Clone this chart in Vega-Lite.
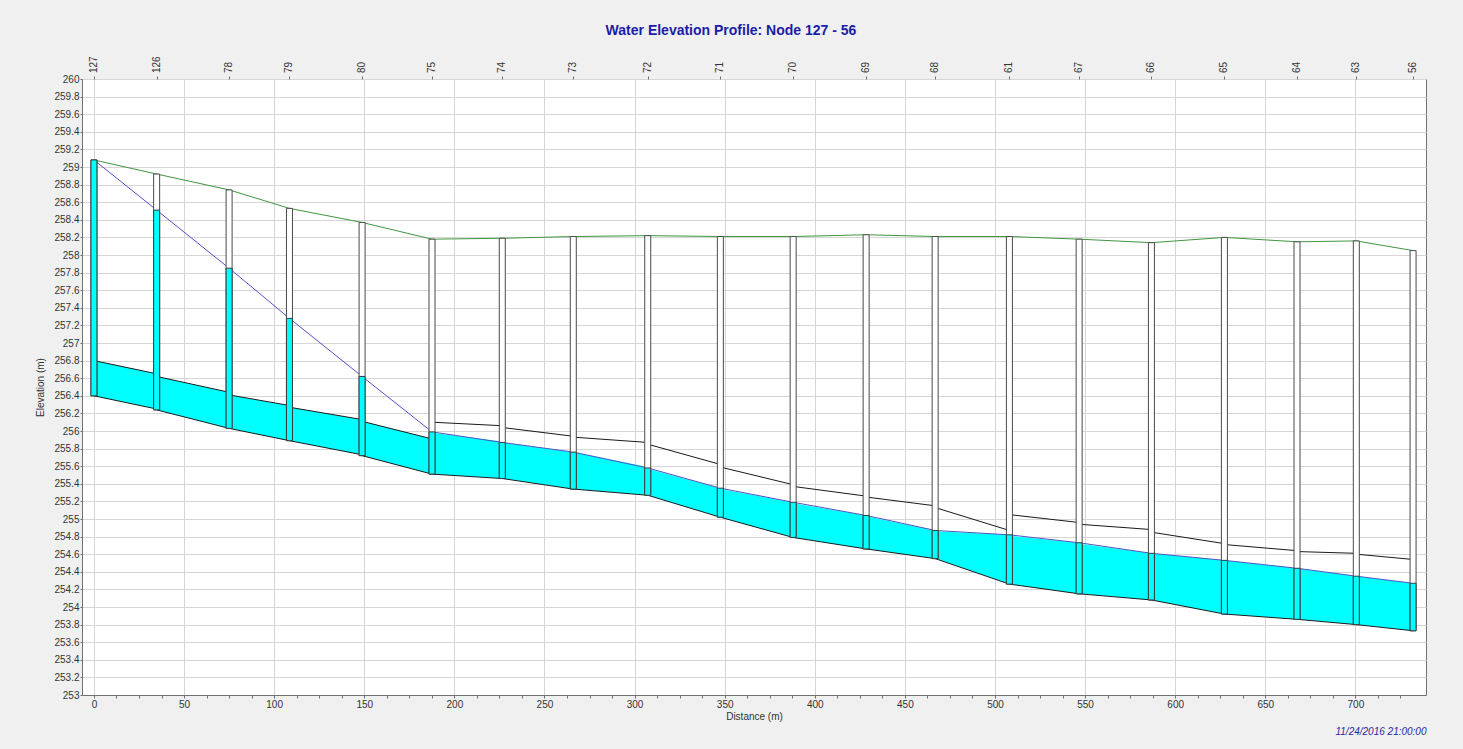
{
  "$schema": "https://vega.github.io/schema/vega-lite/v6.json",
  "width": 1344,
  "height": 616,
  "autosize": {"type": "none"},
  "padding": {"left": 82, "top": 79, "right": 37, "bottom": 54},
  "background": "#f0f0f0",
  "title": {"text": "Water Elevation Profile: Node 127 - 56", "color": "#1c1caa", "fontSize": 14, "font": "Liberation Sans", "fontWeight": "bold", "anchor": "middle", "dx": -23, "offset": 18},
  "config": {
    "view": {"fill": "white", "stroke": "#707070"},
    "axis": {"labelFont": "Liberation Sans", "titleFont": "Liberation Sans", "labelFontSize": 10, "titleFontSize": 10, "labelColor": "#333333", "titleColor": "#333333", "titleFontWeight": "normal", "gridColor": "#d6d6d6", "domainColor": "#707070", "tickColor": "#707070"}
  },
  "datasets": {
    "nodes": [
      {"node": "127", "d": 0, "ground": 259.08, "inv": 256.40, "water": 259.08},
      {"node": "126", "d": 34.8, "ground": 258.92, "inv": 256.24, "water": 258.51},
      {"node": "78", "d": 75, "ground": 258.74, "inv": 256.03, "water": 257.85},
      {"node": "79", "d": 108.5, "ground": 258.53, "inv": 255.89, "water": 257.28},
      {"node": "80", "d": 148.8, "ground": 258.37, "inv": 255.72, "water": 256.62},
      {"node": "75", "d": 187.6, "ground": 258.18, "inv": 255.51, "water": 255.99},
      {"node": "74", "d": 226.6, "ground": 258.19, "inv": 255.46, "water": 255.87},
      {"node": "73", "d": 266, "ground": 258.21, "inv": 255.34, "water": 255.76},
      {"node": "72", "d": 307.3, "ground": 258.22, "inv": 255.27, "water": 255.58},
      {"node": "71", "d": 347.6, "ground": 258.21, "inv": 255.02, "water": 255.35},
      {"node": "70", "d": 388, "ground": 258.21, "inv": 254.79, "water": 255.19},
      {"node": "69", "d": 428.5, "ground": 258.23, "inv": 254.66, "water": 255.04},
      {"node": "68", "d": 466.8, "ground": 258.21, "inv": 254.55, "water": 254.87},
      {"node": "61", "d": 508, "ground": 258.21, "inv": 254.26, "water": 254.82},
      {"node": "67", "d": 546.7, "ground": 258.18, "inv": 254.15, "water": 254.73},
      {"node": "66", "d": 586.8, "ground": 258.14, "inv": 254.08, "water": 254.61},
      {"node": "65", "d": 627.3, "ground": 258.20, "inv": 253.92, "water": 254.53},
      {"node": "64", "d": 667.6, "ground": 258.15, "inv": 253.86, "water": 254.44},
      {"node": "63", "d": 700.5, "ground": 258.16, "inv": 253.80, "water": 254.35},
      {"node": "56", "d": 732, "ground": 258.05, "inv": 253.73, "water": 254.27}
    ],
    "pipes": [
      {"seg": 1, "d": 0, "inv": 256.40, "crown": 256.80, "surf": 256.80},
      {"seg": 1, "d": 34.8, "inv": 256.25, "crown": 256.65, "surf": 256.65},
      {"seg": 2, "d": 34.8, "inv": 256.24, "crown": 256.62, "surf": 256.62},
      {"seg": 2, "d": 75, "inv": 256.03, "crown": 256.44, "surf": 256.44},
      {"seg": 3, "d": 75, "inv": 256.03, "crown": 256.41, "surf": 256.41},
      {"seg": 3, "d": 108.5, "inv": 255.89, "crown": 256.29, "surf": 256.29},
      {"seg": 4, "d": 108.5, "inv": 255.89, "crown": 256.27, "surf": 256.27},
      {"seg": 4, "d": 148.8, "inv": 255.73, "crown": 256.13, "surf": 256.13},
      {"seg": 5, "d": 148.8, "inv": 255.72, "crown": 256.11, "surf": 256.11},
      {"seg": 5, "d": 187.6, "inv": 255.51, "crown": 255.91, "surf": 255.91},
      {"seg": 6, "d": 187.6, "inv": 255.51, "crown": 256.10, "surf": 255.98},
      {"seg": 6, "d": 226.6, "inv": 255.46, "crown": 256.06, "surf": 255.88},
      {"seg": 7, "d": 226.6, "inv": 255.46, "crown": 256.04, "surf": 255.87},
      {"seg": 7, "d": 266, "inv": 255.34, "crown": 255.94, "surf": 255.76},
      {"seg": 8, "d": 266, "inv": 255.34, "crown": 255.93, "surf": 255.76},
      {"seg": 8, "d": 307.3, "inv": 255.27, "crown": 255.87, "surf": 255.59},
      {"seg": 9, "d": 307.3, "inv": 255.27, "crown": 255.85, "surf": 255.57},
      {"seg": 9, "d": 347.6, "inv": 255.02, "crown": 255.62, "surf": 255.35},
      {"seg": 10, "d": 347.6, "inv": 255.02, "crown": 255.59, "surf": 255.34},
      {"seg": 10, "d": 388, "inv": 254.79, "crown": 255.39, "surf": 255.19},
      {"seg": 11, "d": 388, "inv": 254.79, "crown": 255.37, "surf": 255.18},
      {"seg": 11, "d": 428.5, "inv": 254.66, "crown": 255.26, "surf": 255.04},
      {"seg": 12, "d": 428.5, "inv": 254.66, "crown": 255.25, "surf": 255.03},
      {"seg": 12, "d": 466.8, "inv": 254.55, "crown": 255.15, "surf": 254.87},
      {"seg": 13, "d": 466.8, "inv": 254.55, "crown": 255.13, "surf": 254.86},
      {"seg": 13, "d": 508, "inv": 254.26, "crown": 254.87, "surf": 254.82},
      {"seg": 14, "d": 508, "inv": 254.26, "crown": 255.05, "surf": 254.81},
      {"seg": 14, "d": 546.7, "inv": 254.15, "crown": 254.96, "surf": 254.73},
      {"seg": 15, "d": 546.7, "inv": 254.15, "crown": 254.94, "surf": 254.72},
      {"seg": 15, "d": 586.8, "inv": 254.08, "crown": 254.88, "surf": 254.61},
      {"seg": 16, "d": 586.8, "inv": 254.08, "crown": 254.85, "surf": 254.61},
      {"seg": 16, "d": 627.3, "inv": 253.92, "crown": 254.72, "surf": 254.53},
      {"seg": 17, "d": 627.3, "inv": 253.92, "crown": 254.71, "surf": 254.53},
      {"seg": 17, "d": 667.6, "inv": 253.86, "crown": 254.64, "surf": 254.44},
      {"seg": 18, "d": 667.6, "inv": 253.86, "crown": 254.63, "surf": 254.44},
      {"seg": 18, "d": 700.5, "inv": 253.80, "crown": 254.61, "surf": 254.35},
      {"seg": 19, "d": 700.5, "inv": 253.80, "crown": 254.60, "surf": 254.35},
      {"seg": 19, "d": 732, "inv": 253.73, "crown": 254.54, "surf": 254.27}
    ]
  },
  "layer": [
    {
      "data": {"name": "pipes"},
      "mark": {"type": "area", "color": "#00ffff", "opacity": 1},
      "encoding": {
        "x": {"field": "d", "type": "quantitative", "scale": {"domain": [-3.85, 736.4], "nice": false, "zero": false},
          "axis": {"orient": "bottom", "values": [0, 50, 100, 150, 200, 250, 300, 350, 400, 450, 500, 550, 600, 650, 700], "grid": true, "ticks": false, "labelPadding": 4, "title": "Distance (m)", "titlePadding": 2, "domain": true}},
        "y": {"field": "inv", "type": "quantitative", "scale": {"domain": [253, 260], "nice": false, "zero": false},
          "axis": {"orient": "left", "values": [253, 253.2, 253.4, 253.6, 253.8, 254, 254.2, 254.4, 254.6, 254.8, 255, 255.2, 255.4, 255.6, 255.8, 256, 256.2, 256.4, 256.6, 256.8, 257, 257.2, 257.4, 257.6, 257.8, 258, 258.2, 258.4, 258.6, 258.8, 259, 259.2, 259.4, 259.6, 259.8, 260], "format": "~g", "grid": true, "tickSize": 2, "labelPadding": 1, "title": "Elevation (m)", "titlePadding": 8}},
        "y2": {"field": "surf"},
        "detail": {"field": "seg"}
      }
    },
    {
      "data": {"name": "pipes"},
      "mark": {"type": "line", "color": "#1a1a1a", "strokeWidth": 1},
      "encoding": {
        "x": {"field": "d", "type": "quantitative", "axis": null},
        "y": {"field": "crown", "type": "quantitative", "axis": null},
        "detail": {"field": "seg"}
      }
    },
    {
      "data": {"name": "pipes"},
      "mark": {"type": "line", "color": "#1a1a1a", "strokeWidth": 1},
      "encoding": {
        "x": {"field": "d", "type": "quantitative", "axis": null},
        "y": {"field": "inv", "type": "quantitative", "axis": null},
        "detail": {"field": "seg"}
      }
    },
    {
      "data": {"name": "nodes"},
      "mark": {"type": "line", "color": "#5252c4", "strokeWidth": 1},
      "encoding": {
        "x": {"field": "d", "type": "quantitative", "axis": null},
        "y": {"field": "water", "type": "quantitative", "axis": null}
      }
    },
    {
      "data": {"name": "nodes"},
      "mark": {"type": "line", "color": "#3f963f", "strokeWidth": 1},
      "encoding": {
        "x": {"field": "d", "type": "quantitative", "axis": null},
        "y": {"field": "ground", "type": "quantitative", "axis": null}
      }
    },
    {
      "data": {"name": "nodes"},
      "mark": {"type": "bar", "size": 6, "fill": "white", "stroke": "#4a4a4a", "strokeWidth": 1},
      "encoding": {
        "x": {"field": "d", "type": "quantitative",
          "axis": {"orient": "top", "values": [0, 34.8, 75, 108.5, 148.8, 187.6, 226.6, 266, 307.3, 347.6, 388, 428.5, 466.8, 508, 546.7, 586.8, 627.3, 667.6, 700.5, 732], "labels": false, "ticks": true, "tickSize": 3, "domain": false, "grid": false, "title": null}},
        "y": {"field": "ground", "type": "quantitative", "axis": null},
        "y2": {"field": "inv"}
      }
    },
    {
      "data": {"name": "nodes"},
      "mark": {"type": "bar", "size": 6, "fill": "#00ffff", "stroke": "#3a3a3a", "strokeWidth": 1},
      "encoding": {
        "x": {"field": "d", "type": "quantitative", "axis": null},
        "y": {"field": "water", "type": "quantitative", "axis": null},
        "y2": {"field": "inv"}
      }
    },
    {
      "data": {"name": "nodes"},
      "mark": {"type": "text", "angle": 270, "align": "left", "baseline": "middle", "dx": 6, "font": "Liberation Sans", "fontSize": 10, "color": "#333333"},
      "encoding": {
        "x": {"field": "d", "type": "quantitative",
          "axis": {"orient": "bottom", "values": [0, 12.5, 25, 37.5, 50, 62.5, 75, 87.5, 100, 112.5, 125, 137.5, 150, 162.5, 175, 187.5, 200, 212.5, 225, 237.5, 250, 262.5, 275, 287.5, 300, 312.5, 325, 337.5, 350, 362.5, 375, 387.5, 400, 412.5, 425, 437.5, 450, 462.5, 475, 487.5, 500, 512.5, 525, 537.5, 550, 562.5, 575, 587.5, 600, 612.5, 625, 637.5, 650, 662.5, 675, 687.5, 700, 712.5, 725], "labels": false, "ticks": true, "tickSize": 3, "domain": false, "grid": false, "title": "11/24/2016 21:00:00", "titleAnchor": "end", "titleFontStyle": "italic", "titleColor": "#2828a0", "titlePadding": 28}},
        "y": {"datum": 260, "type": "quantitative", "axis": null},
        "text": {"field": "node"}
      }
    }
  ],
  "resolve": {"axis": {"x": "independent", "y": "independent"}}
}
